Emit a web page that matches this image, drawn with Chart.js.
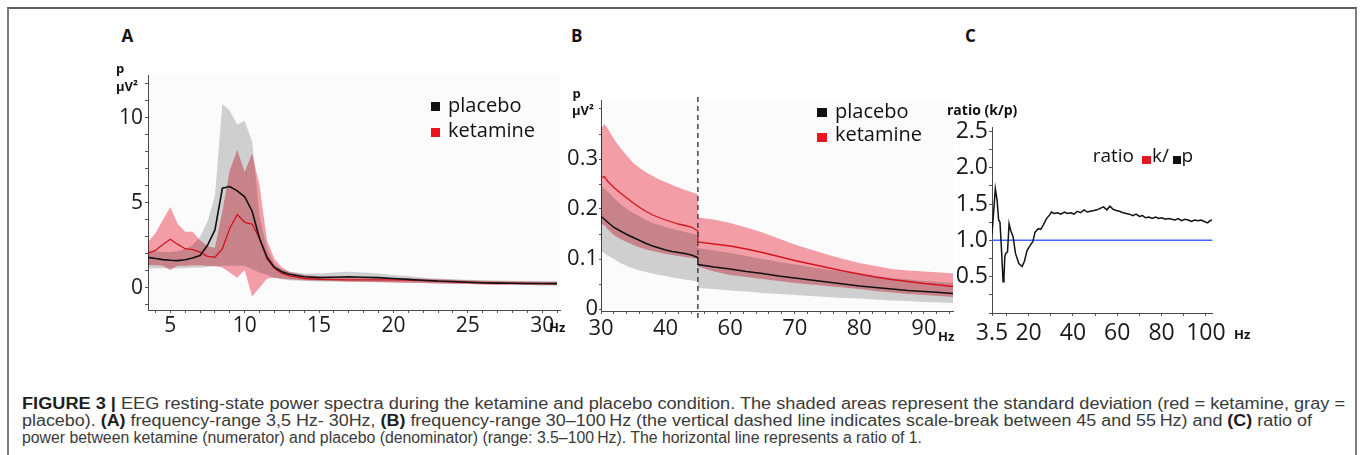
<!DOCTYPE html>
<html><head><meta charset="utf-8">
<title>EEG resting-state power spectra</title>
<script src="https://cdn.jsdelivr.net/npm/chart.js@4.4.1/dist/chart.umd.min.js"></script>
<style>
html,body{margin:0;padding:0;background:#fff;}
body{width:1360px;height:455px;overflow:hidden;position:relative;font-family:'Open Sans',sans-serif;}
#frame{position:absolute;left:7px;top:7px;width:1346px;height:470px;border-top:2px solid #5e5e5e;border-left:2px solid #7d7d7d;border-right:2px solid #7d7d7d;}
canvas{position:absolute;}
.t{position:absolute;white-space:nowrap;line-height:1;color:#111;}
.lg{font-size:20px;}
.lgc{font-size:19px;}
.ax{font-size:13px;font-weight:700;}
.axc{font-size:14px;font-weight:700;}
.pl{font-size:17px;font-weight:700;}
.hz{font-size:13px;font-weight:700;}
.sq{position:absolute;}
.cap{position:absolute;left:22px;white-space:nowrap;font-family:'Liberation Sans Narrow','Liberation Sans',sans-serif;font-size:16px;line-height:1;color:#3a3a3a;transform-origin:0 0;}
.cap b{color:#1e1e1e;}
</style></head>
<body>
<div id="frame"></div>
<canvas id="cA" width="480" height="290" style="left:100px;top:60px"></canvas>
<canvas id="cB" width="410" height="270" style="left:560px;top:80px"></canvas>
<canvas id="cC" width="300" height="250" style="left:930px;top:100px"></canvas>

<div class="t pl" style="left:121.5px;top:26.6px">A</div>
<div class="t pl" style="left:571px;top:26.6px">B</div>
<div class="t pl" style="left:965px;top:26.6px">C</div>

<div class="t ax" style="left:116px;top:61.5px">p</div>
<div class="t ax" style="left:116px;top:80.2px">µV²</div>
<div class="t ax" style="left:572.5px;top:86.5px">p</div>
<div class="t ax" style="left:572px;top:103.5px">µV²</div>
<div class="t axc" style="left:947px;top:102.6px">ratio (k/p)</div>

<div class="sq" style="left:431px;top:102px;width:9px;height:9px;background:#111"></div>
<div class="t lg" style="left:448px;top:94.9px">placebo</div>
<div class="sq" style="left:431px;top:128px;width:9px;height:9px;background:#eb141e"></div>
<div class="t lg" style="left:448px;top:120.2px">ketamine</div>

<div class="sq" style="left:817px;top:108px;width:10px;height:9px;background:#111"></div>
<div class="t lg" style="left:835px;top:100.5px">placebo</div>
<div class="sq" style="left:817px;top:133px;width:10px;height:9px;background:#eb141e"></div>
<div class="t lg" style="left:835px;top:124px">ketamine</div>

<div class="t lgc" style="left:1092.7px;top:146px">ratio</div>
<div class="sq" style="left:1142px;top:155.5px;width:9px;height:8px;background:#eb141e"></div>
<div class="t lgc" style="left:1152px;top:146px">k/</div>
<div class="sq" style="left:1173px;top:156px;width:8px;height:8px;background:#111"></div>
<div class="t lgc" style="left:1181.5px;top:146px">p</div>

<div class="t hz" style="left:549px;top:320.5px">Hz</div>
<div class="t hz" style="left:938px;top:330px">Hz</div>
<div class="t hz" style="left:1234px;top:328px">Hz</div>

<div class="cap" data-w="1323" style="top:395.5px"><b>FIGURE 3 |</b> EEG resting-state power spectra during the ketamine and placebo condition. The shaded areas represent the standard deviation (red = ketamine, gray =</div>
<div class="cap" data-w="1290" style="top:412.5px">placebo). <b>(A)</b> frequency-range 3,5 Hz- 30Hz, <b>(B)</b> frequency-range 30–100&#8201;Hz (the vertical dashed line indicates scale-break between 45 and 55&#8201;Hz) and <b>(C)</b> ratio of</div>
<div class="cap" data-w="900" style="top:429.5px">power between ketamine (numerator) and placebo (denominator) (range: 3.5–100&#8201;Hz). The horizontal line represents a ratio of 1.</div>

<script>
// ---------- Panel A: 3.5–30 Hz ----------
const freqA = [3.5,4,4.5,5,5.5,6,6.5,7,7.5,8,8.5,9,9.5,10,10.5,11,11.5,12,12.5,13,
  14,15,16,17,18,19,20,21,22,23,24,25,26,27,28,29,30,31];
const placeboA = [1.79,1.72,1.66,1.62,1.6,1.65,1.75,1.9,2.5,3.4,5.85,5.95,5.7,5.35,4.5,2.9,1.8,1.2,0.95,0.8,
  0.65,0.6,0.62,0.65,0.62,0.6,0.55,0.5,0.45,0.4,0.37,0.33,0.3,0.28,0.27,0.26,0.26,0.25];
const placeboA_hi = [2.2,2.15,2.1,2.1,2.15,2.3,2.5,3.0,3.9,5.4,10.8,10.4,9.6,9.8,8.6,4.2,2.3,1.4,1.1,0.95,
  0.85,0.85,0.9,0.95,0.9,0.85,0.75,0.7,0.6,0.55,0.5,0.47,0.45,0.43,0.42,0.41,0.4,0.4];
const placeboA_lo = [1.15,1.15,1.15,1.15,1.15,1.15,1.18,1.2,1.22,1.25,1.3,1.3,1.3,1.3,1.1,0.9,0.75,0.6,0.5,0.45,
  0.4,0.38,0.36,0.35,0.34,0.33,0.32,0.3,0.28,0.26,0.24,0.22,0.2,0.19,0.18,0.17,0.16,0.15];
const ketamineA = [2.02,2.2,2.55,2.85,2.55,2.3,2.25,2.1,1.85,1.8,2.3,3.5,4.3,3.85,3.75,2.9,1.7,1.15,0.85,0.7,
  0.55,0.5,0.48,0.47,0.47,0.47,0.47,0.45,0.42,0.38,0.35,0.32,0.3,0.28,0.27,0.26,0.25,0.25];
const ketamineA_hi = [2.7,3.2,4.0,4.75,3.75,3.3,3.3,2.8,2.45,2.35,4.5,6.9,8.1,6.8,7.9,6.0,2.8,1.7,1.2,0.95,
  0.75,0.68,0.66,0.65,0.63,0.6,0.58,0.55,0.53,0.5,0.47,0.44,0.42,0.4,0.38,0.37,0.36,0.35];
const ketamineA_lo = [1.33,1.33,1.3,1.05,1.3,1.3,1.33,1.33,1.3,1.28,1.2,0.9,0.6,1.05,-0.5,0.0,0.55,0.6,0.55,0.5,
  0.45,0.42,0.4,0.38,0.36,0.34,0.32,0.3,0.28,0.26,0.24,0.22,0.2,0.19,0.18,0.17,0.16,0.15];
const xTicksA = [4,5,6,7,8,9,10,11,12,13,14,15,16,17,18,19,20,21,22,23,24,25,26,27,28,29,30,31];
const xLabelsA = [5,10,15,20,25,30];
const yTicksA = [-1,0,1,2,3,4,5,6,7,8,9,10,11,12];
const yLabelsA = [0,5,10];

// ---------- Panel B: 30–100 Hz with a scale break 45|55 Hz ----------
const freqB = [30,30.5,31,32,33,34,35,36,37,38,39,40,41,42,43,44,45,
  55,57.5,60,62.5,65,67.5,70,72.5,75,77.5,80,82.5,85,87.5,90,92.5,94.5];
const placeboB = [0.185,0.18,0.174,0.163,0.156,0.149,0.143,0.137,0.131,0.126,0.122,0.118,0.115,0.113,0.111,0.108,0.103,
  0.089,0.084,0.08,0.075,0.071,0.066,0.062,0.058,0.054,0.05,0.046,0.043,0.04,0.037,0.035,0.033,0.031];
const placeboB_hi = [0.245,0.24,0.235,0.222,0.21,0.2,0.192,0.185,0.178,0.172,0.168,0.164,0.16,0.157,0.154,0.151,0.148,
  0.122,0.117,0.112,0.106,0.1,0.094,0.089,0.084,0.079,0.074,0.07,0.066,0.062,0.059,0.056,0.054,0.052];
const placeboB_lo = [0.115,0.112,0.107,0.1,0.092,0.086,0.081,0.077,0.074,0.071,0.068,0.066,0.063,0.061,0.059,0.057,0.055,
  0.042,0.04,0.037,0.035,0.032,0.03,0.028,0.026,0.024,0.022,0.021,0.019,0.017,0.016,0.014,0.013,0.012];
const ketamineB = [0.262,0.265,0.256,0.243,0.232,0.222,0.212,0.203,0.195,0.188,0.183,0.178,0.174,0.17,0.167,0.164,0.156,
  0.134,0.13,0.126,0.12,0.113,0.105,0.097,0.09,0.083,0.076,0.07,0.064,0.059,0.055,0.051,0.048,0.045];
const ketamineB_hi = [0.36,0.37,0.362,0.34,0.322,0.307,0.292,0.282,0.273,0.266,0.259,0.254,0.248,0.243,0.238,0.234,0.229,
  0.183,0.179,0.172,0.163,0.153,0.141,0.129,0.119,0.109,0.1,0.092,0.086,0.08,0.077,0.075,0.073,0.071];
const ketamineB_lo = [0.17,0.168,0.16,0.148,0.14,0.134,0.128,0.123,0.119,0.116,0.113,0.11,0.108,0.106,0.104,0.102,0.1,
  0.085,0.075,0.068,0.064,0.06,0.056,0.052,0.049,0.046,0.043,0.04,0.036,0.033,0.03,0.028,0.026,0.024];
const breakB = [45, 55];
const xTicksB = [30,32,34,36,38,40,42,44,56,58,60,62,64,66,68,70,72,74,76,78,80,82,84,86,88,90,92,94];
const xLabelsB = [30,40,60,70,80,90];
const yTicksB = [0,0.05,0.1,0.15,0.2,0.25,0.3,0.35,0.4];
const yLabelsB = [0,0.1,0.2,0.3];

// ---------- Panel C: ratio k/p ----------
const freqC = [3.5,4.4,5.0,5.8,6.5,7.1,7.8,8.5,8.9,9.3,
  9.7,10.5,11.2,11.9,13.0,14.1,15.6,17.1,18.2,19.3,
  20.7,21.9,22.9,24.4,25.5,26.6,28.1,29.5,30.3,31.5,
  33.2,34.5,36.2,37.5,39.1,40.5,42.0,43.5,45.0,46.5,
  47.9,49.5,50.8,52.3,53.8,55.3,56.7,58.0,59.6,61.0,
  62.6,64.0,65.5,67.0,68.5,70.0,71.4,72.8,74.3,75.8,
  77.3,78.7,80.2,81.6,83.1,84.6,86.1,87.5,89.0,90.5,
  92.0,93.5,94.9,96.4,97.8,99.3,100.8,101.8,102.7];
const ratioC = [1.09,1.46,1.71,1.55,1.28,1.25,0.86,0.43,0.5,0.78,
  0.82,0.84,1.23,1.14,1.05,0.82,0.68,0.64,0.72,0.86,
  0.93,0.98,1.11,1.16,1.15,1.21,1.3,1.35,1.39,1.37,
  1.38,1.36,1.39,1.37,1.38,1.36,1.4,1.38,1.42,1.39,
  1.4,1.41,1.42,1.44,1.46,1.42,1.47,1.43,1.41,1.4,
  1.38,1.37,1.36,1.34,1.36,1.33,1.34,1.31,1.32,1.3,
  1.32,1.3,1.31,1.29,1.3,1.29,1.28,1.3,1.27,1.29,
  1.28,1.26,1.28,1.27,1.28,1.26,1.24,1.27,1.28];
const refLineC = [{f:3.5, r:1}, {f:103, r:1}];
const xTicksC = [3.5,10,20,30,40,50,60,70,80,90,100];
const xLabelsC = [3.5,20,40,60,80,100];
const yTicksC = [0,0.25,0.5,0.75,1,1.25,1.5,1.75,2,2.25,2.5];
const yLabelsC = [0.5,1,1.5,2,2.5];

// ---------- styles ----------
const GRAY = 'rgb(211,211,211)';
const PINK = 'rgb(247,160,170)';
const BLACK = '#111111';
const RED = '#d3141e';
const FONT = "'Open Sans', sans-serif";
const NONE = 'rgba(0,0,0,0)';

// scale break mapping for panel B (45–55 Hz removed)
const toAxisB = f => f <= breakB[0] ? f : f - (breakB[1] - breakB[0]);
const fromAxisB = u => u <= breakB[0] ? u : u + (breakB[1] - breakB[0]);

const bgPlugin = {
  id: 'plotbg',
  beforeDraw(chart, args, opts) {
    if (!opts || !opts.color) return;
    const a = chart.chartArea, ctx = chart.ctx;
    ctx.save(); ctx.fillStyle = opts.color;
    ctx.fillRect(a.left, a.top, a.right - a.left, a.bottom - a.top);
    ctx.restore();
  }
};
// bands overlap like printed transparencies (multiply); lines drawn normally
const blendPlugin = {
  id: 'blend',
  beforeDatasetsDraw(c) { c.ctx.globalCompositeOperation = 'multiply'; },
  beforeDatasetDraw(c) { c.ctx.globalCompositeOperation = 'source-over'; },
  afterDatasetDraw(c) { c.ctx.globalCompositeOperation = 'multiply'; },
  afterDatasetsDraw(c) { c.ctx.globalCompositeOperation = 'source-over'; }
};

function axis(o) {
  return {
    type: 'linear', min: o.min, max: o.max,
    afterBuildTicks: s => { s.ticks = o.ticks.map(v => ({ value: v })); },
    afterFit: s => { if (o.w != null) s.width = o.w; if (o.h != null) s.height = o.h; },
    ticks: {
      autoSkip: false, maxRotation: 0, minRotation: 0, padding: o.pad, color: '#1a1a1a',
      font: { family: FONT, size: o.size }, callback: v => o.label(v)
    },
    grid: { drawOnChartArea: false, drawTicks: true, tickLength: o.tl, tickColor: '#555', tickWidth: 1 },
    border: { display: true, color: '#4a4a4a', width: 1 }
  };
}

function line(data, color, width, extra) {
  return Object.assign({ data, borderColor: color, borderWidth: width, fill: false, pointRadius: 0 }, extra || {});
}
function bandTop(data, color) {
  return { data, borderColor: NONE, borderWidth: 0, pointRadius: 0, fill: '+1', backgroundColor: color };
}
function bandBottom(data) {
  return { data, borderColor: NONE, borderWidth: 0, pointRadius: 0, fill: false };
}

function make(id, datasets, xs, ys, pad, bg) {
  return new Chart(document.getElementById(id), {
    type: 'line',
    data: { datasets },
    options: {
      responsive: false, animation: false, events: [],
      layout: { padding: pad },
      elements: { line: { tension: 0 }, point: { radius: 0 } },
      plugins: { legend: { display: false }, tooltip: { enabled: false }, plotbg: { color: bg } },
      scales: { x: axis(xs), y: axis(ys) }
    },
    plugins: [bgPlugin, blendPlugin]
  });
}

// Panel A
const pA = ys => freqA.map((f, i) => ({ x: f, y: ys[i] }));
make('cA', [
  line(pA(placeboA), BLACK, 1.6),
  line(pA(ketamineA), RED, 1.3),
  bandTop(pA(ketamineA_hi), PINK), bandBottom(pA(ketamineA_lo)),
  bandTop(pA(placeboA_hi), GRAY), bandBottom(pA(placeboA_lo))
],
{ min: 3.5, max: 31.2, ticks: xTicksA, label: v => xLabelsA.includes(v) ? String(v) : '', size: 21, pad: 0, tl: 3, h: 40 },
{ min: -1.3, max: 12.5, ticks: yTicksA, label: v => yLabelsA.includes(v) ? String(v) : '', size: 21, pad: 2, tl: 3, w: 48 },
{ left: 0, top: 15, right: 20, bottom: 0 }, '#fbfbfb');

// Panel B
const pB = ys => freqB.map((f, i) => ({ x: toAxisB(f), y: ys[i] }));
make('cB', [
  line([{ x: toAxisB(breakB[0]), y: -0.018 }, { x: toAxisB(breakB[0]), y: 0.432 }], '#444', 1.5, { borderDash: [5, 4], clip: false }),
  line(pB(placeboB), BLACK, 1.5),
  line(pB(ketamineB), RED, 1.3),
  bandTop(pB(ketamineB_hi), PINK), bandBottom(pB(ketamineB_lo)),
  bandTop(pB(placeboB_hi), GRAY), bandBottom(pB(placeboB_lo))
],
{ min: 30, max: toAxisB(94.5), ticks: xTicksB.map(toAxisB),
  label: v => { const f = fromAxisB(v); return xLabelsB.includes(f) ? String(f) : ''; }, size: 22, pad: 2, tl: 3, h: 39 },
{ min: -0.004, max: 0.418, ticks: yTicksB,
  label: v => yLabelsB.includes(v) ? (v === 0 ? '0' : v.toFixed(1)) : '', size: 22, pad: 1, tl: 2, w: 41 },
{ left: 0, top: 20, right: 17, bottom: 0 }, '#fbfbfb');

// Panel C
make('cC', [
  line(freqC.map((f, i) => ({ x: f, y: ratioC[i] })), BLACK, 1.5),
  line(refLineC.map(p => ({ x: p.f, y: p.r })), 'rgb(70,100,255)', 1.5)
],
{ min: 3.5, max: 103, ticks: xTicksC, label: v => xLabelsC.includes(v) ? String(v) : '', size: 23, pad: 4, tl: 3, h: 37 },
{ min: 0, max: 2.56, ticks: yTicksC, label: v => yLabelsC.includes(v) ? v.toFixed(1) : '', size: 23, pad: 1, tl: 3, w: 62 },
{ left: 0, top: 27, right: 12, bottom: 0 }, null);

// fit caption lines to their printed widths
document.querySelectorAll('.cap').forEach(el => {
  const w = el.getBoundingClientRect().width;
  const target = +el.dataset.w;
  if (w > 0) el.style.transform = 'scaleX(' + (target / w) + ')';
});
</script>
</body></html>
